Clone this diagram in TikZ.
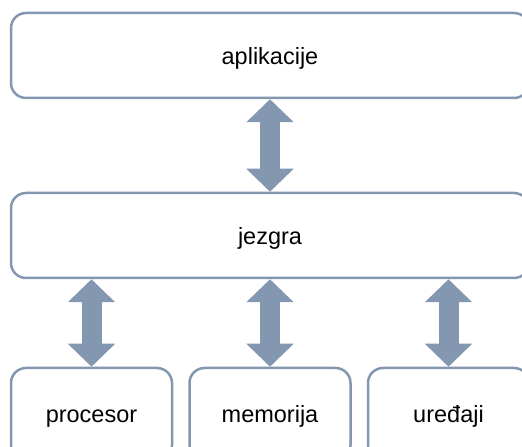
\documentclass[tikz,border=0pt]{standalone}
\usepackage{fontspec}
\setmainfont{Liberation Sans}
\usetikzlibrary{positioning,calc,arrows.meta}
\definecolor{slateblue}{HTML}{8497B0}

\begin{document}
\begin{tikzpicture}
  [x=1pt,y=1pt,line width=2.5pt,
   boxN/.style={draw=slateblue,rounded corners=15pt,inner sep=0pt,
                text height=22pt,text depth=4pt,
                font=\fontsize{23.5}{28}\selectfont},
   layerN/.style={boxN,minimum width=518pt,minimum height=85pt},
   unitN/.style={boxN,minimum width=161pt,minimum height=92pt},
   linkA/.style={slateblue,line width=20pt,
                 {Triangle[width=46pt,length=23pt]}-{Triangle[width=46pt,length=23pt]}},
  ]

 \useasboundingbox (0,0) rectangle (522,447);
 \clip (0,0) rectangle (522,447);

 \node[layerN] (apl)  at (270,391.5) {aplikacije};
 \node[layerN] (jez)  at (270,211.5) {jezgra};
 \node[unitN]  (proc) at (91.5,33)   {procesor};
 \node[unitN]  (mem)  at (270,33)    {memorija};
 \node[unitN]  (dev)  at (448.5,33)  {uređaji};

 \draw[linkA] (apl.south) to (jez.north);
 \draw[linkA] (jez.south -| proc.north) to (proc.north);
 \draw[linkA] (jez.south -| mem.north)  to (mem.north);
 \draw[linkA] (jez.south -| dev.north)  to (dev.north);

\end{tikzpicture}
\end{document}
